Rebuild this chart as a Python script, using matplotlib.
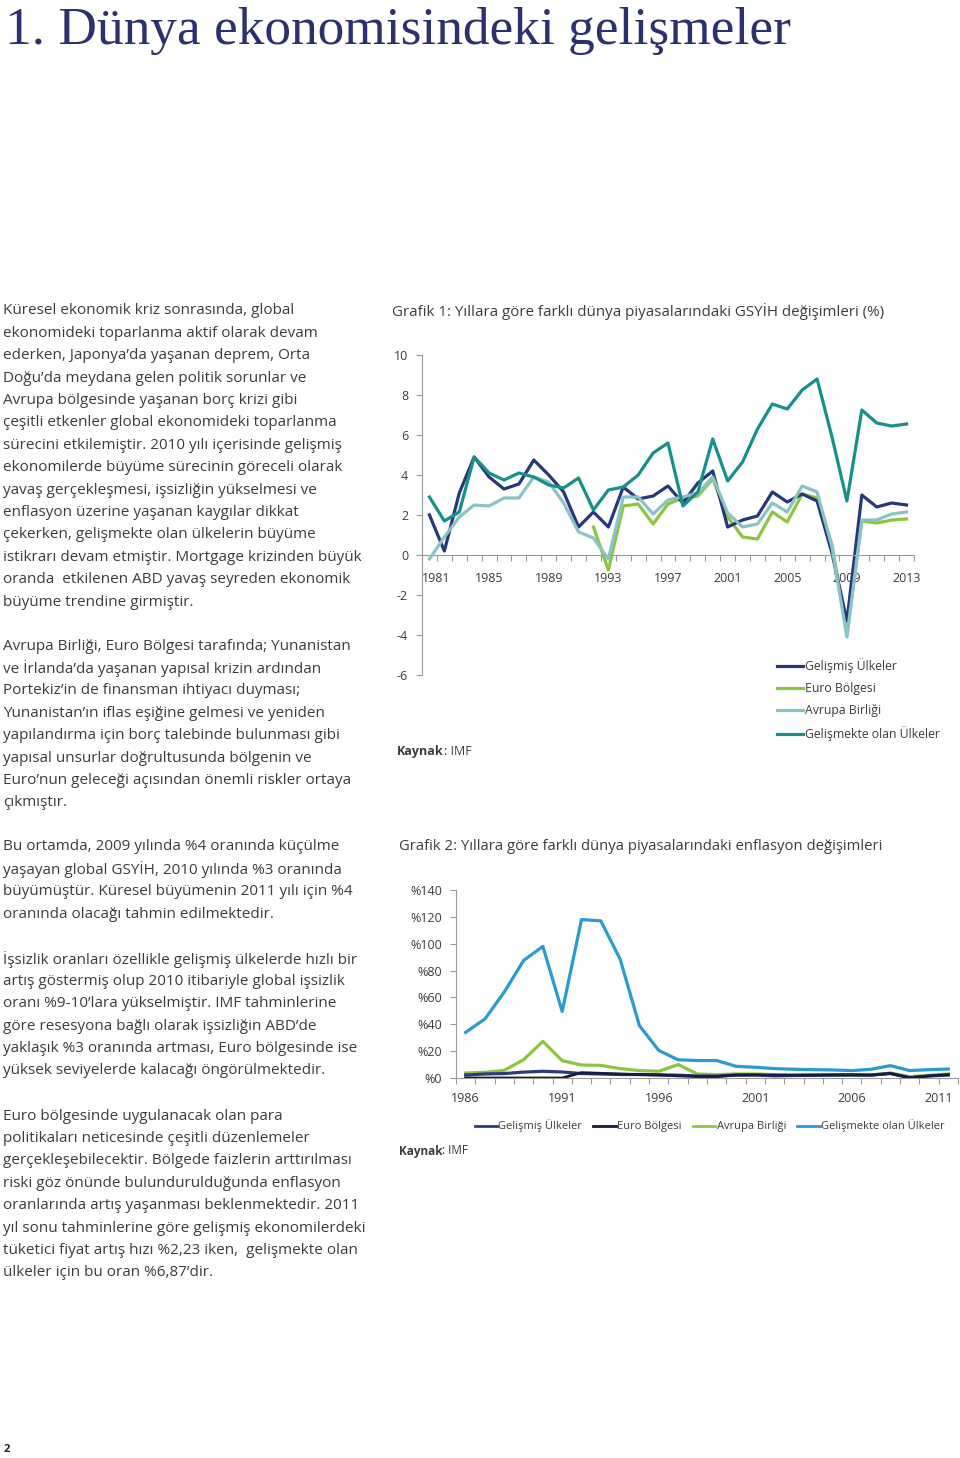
import numpy as np
import matplotlib
matplotlib.use('Agg')
import matplotlib.pyplot as plt
import matplotlib.transforms as mtrans

# --- data: Grafik 1 (GDP change, %) ---
years_gdp = list(range(1981, 2014))
gelismis_gdp = [2.0, 0.2, 3.1, 4.9, 3.9, 3.3, 3.55, 4.75, 4.0, 3.15,
                1.4, 2.15, 1.4, 3.4, 2.8, 2.95, 3.45, 2.6, 3.6, 4.2,
                1.4, 1.75, 1.95, 3.15, 2.65, 3.05, 2.7, 0.1, -3.3, 3.0,
                2.4, 2.6, 2.5]
euro_gdp = [None] * 11 + [1.4, -0.75, 2.45, 2.55, 1.55, 2.55, 2.85, 2.95, 3.8,
                          1.9, 0.9, 0.8, 2.15, 1.65, 3.05, 2.85, 0.5, -4.0, 1.7,
                          1.6, 1.75, 1.8]
ab_gdp = [-0.2, 0.9, 1.9, 2.5, 2.45, 2.85, 2.85, 3.9, 3.65, 2.6,
          1.15, 0.85, -0.2, 2.9, 2.9, 2.05, 2.75, 2.9, 3.1, 3.9,
          2.1, 1.4, 1.55, 2.6, 2.15, 3.45, 3.15, 0.4, -4.1, 1.75,
          1.75, 2.05, 2.15]
gelismekte_gdp = [2.9, 1.7, 2.15, 4.9, 4.1, 3.75, 4.1, 3.9, 3.5, 3.35,
                  3.85, 2.25, 3.25, 3.4, 4.0, 5.1, 5.6, 2.45, 3.15, 5.8,
                  3.7, 4.65, 6.3, 7.55, 7.3, 8.25, 8.8, 5.9, 2.7, 7.25,
                  6.6, 6.45, 6.55]
gdp_tick_years = [1981, 1985, 1989, 1993, 1997, 2001, 2005, 2009, 2013]

# --- data: Grafik 2 (inflation, %) ---
years_inf = list(range(1986, 2012))
gelismis_inf = [2.2, 3.0, 3.3, 4.4, 5.0, 4.5, 3.3, 3.0, 2.6, 2.6,
                2.4, 2.1, 1.5, 1.4, 2.3, 2.2, 1.6, 1.9, 2.0, 2.3,
                2.4, 2.2, 3.4, 0.1, 1.5, 2.2]
euro_inf = [0, 0, 0, 0, 0, 0, 4.0, 3.5, 3.0, 2.5,
            2.2, 1.6, 1.1, 1.1, 2.1, 2.3, 2.2, 2.1, 2.2, 2.2,
            2.2, 2.1, 3.3, 0.3, 1.6, 2.5]
ab_inf = [3.7, 4.2, 5.7, 13.6, 27.3, 12.9, 9.7, 9.4, 7.0, 5.5,
          5.0, 10.0, 3.0, 2.5, 3.0, 3.0, 2.5, 2.2, 2.2, 2.2,
          2.2, 2.3, 3.7, 1.0, 2.0, 3.0]
gelismekte_inf = [34, 44, 64, 87.5, 98, 49.5, 118, 117, 88.5, 39,
                  20.5, 13.6, 13, 13, 8.7, 8, 7, 6.5, 6.2, 6,
                  5.5, 6.5, 9.2, 5.5, 6.2, 6.7]
inf_tick_years = [1986, 1991, 1996, 2001, 2006, 2011]

labels = ['Gelişmiş Ülkeler', 'Euro Bölgesi', 'Avrupa Birliği', 'Gelişmekte olan Ülkeler']

# --- page text ---
title = '1. Dünya ekonomisindeki gelişmeler'
paragraphs = [
    (311, ['Küresel ekonomik kriz sonrasında, global',
           'ekonomideki toparlanma aktif olarak devam',
           'ederken, Japonya’da yaşanan deprem, Orta',
           'Doğu’da meydana gelen politik sorunlar ve',
           'Avrupa bölgesinde yaşanan borç krizi gibi',
           'çeşitli etkenler global ekonomideki toparlanma',
           'sürecini etkilemiştir. 2010 yılı içerisinde gelişmiş',
           'ekonomilerde büyüme sürecinin göreceli olarak',
           'yavaş gerçekleşmesi, işsizliğin yükselmesi ve',
           'enflasyon üzerine yaşanan kaygılar dikkat',
           'çekerken, gelişmekte olan ülkelerin büyüme',
           'istikrarı devam etmiştir. Mortgage krizinden büyük',
           'oranda  etkilenen ABD yavaş seyreden ekonomik',
           'büyüme trendine girmiştir.']),
    (646, ['Avrupa Birliği, Euro Bölgesi tarafında; Yunanistan',
           've İrlanda’da yaşanan yapısal krizin ardından',
           'Portekiz’in de finansman ihtiyacı duyması;',
           'Yunanistan’ın iflas eşiğine gelmesi ve yeniden',
           'yapılandırma için borç talebinde bulunması gibi',
           'yapısal unsurlar doğrultusunda bölgenin ve',
           'Euro’nun geleceği açısından önemli riskler ortaya',
           'çıkmıştır.']),
    (847, ['Bu ortamda, 2009 yılında %4 oranında küçülme',
           'yaşayan global GSYİH, 2010 yılında %3 oranında',
           'büyümüştür. Küresel büyümenin 2011 yılı için %4',
           'oranında olacağı tahmin edilmektedir.']),
    (959, ['İşsizlik oranları özellikle gelişmiş ülkelerde hızlı bir',
           'artış göstermiş olup 2010 itibariyle global işsizlik',
           'oranı %9-10’lara yükselmiştir. IMF tahminlerine',
           'göre resesyona bağlı olarak işsizliğin ABD’de',
           'yaklaşık %3 oranında artması, Euro bölgesinde ise',
           'yüksek seviyelerde kalacağı öngörülmektedir.']),
    (1116, ['Euro bölgesinde uygulanacak olan para',
            'politikaları neticesinde çeşitli düzenlemeler',
            'gerçekleşebilecektir. Bölgede faizlerin arttırılması',
            'riski göz önünde bulundurulduğunda enflasyon',
            'oranlarında artış yaşanması beklenmektedir. 2011',
            'yıl sonu tahminlerine göre gelişmiş ekonomilerdeki',
            'tüketici fiyat artış hızı %2,23 iken,  gelişmekte olan',
            'ülkeler için bu oran %6,87’dir.']),
]

W, H = 960, 1458
SANS = 'Open Sans'
TXT = '#3c3c3c'
AXC = '#9a9a9a'
plt.rcParams['font.family'] = SANS
plt.rcParams['axes.unicode_minus'] = False

fig = plt.figure(figsize=(9.6, 14.58), dpi=100)
renderer = fig.canvas.get_renderer()


def axes_px(left, top, width, height):
    return fig.add_axes([left / W, 1 - (top + height) / H, width / W, height / H])


def text_px(x, y, s, **kw):
    return fig.text(x / W, 1 - y / H, s, **kw)


def fit_text(x, y, s, target_w, **kw):
    t = text_px(x, y, s, fontsize=20, **kw)
    w = t.get_window_extent(renderer).width
    t.set_fontsize(20 * target_w / w)
    return t


def shift_label(ax, idx, dx_px):
    lab = ax.xaxis.get_major_ticks()[idx].label1
    lab.set_transform(lab.get_transform() + mtrans.ScaledTranslation(dx_px / 100, 0, fig.dpi_scale_trans))


# page title
fit_text(5, 44, title, 787, family='Liberation Serif', color='#2b3170', va='baseline')

# body text
probe = fit_text(3, -100, 'istikrarı devam etmiştir. Mortgage krizinden büyük', 357)
body_size = probe.get_fontsize()
probe.remove()
for y0, lines in paragraphs:
    for i, line in enumerate(lines):
        text_px(3, y0 + i * 22.4, line, fontsize=body_size, color=TXT, va='center')

text_px(4, 1450, '2', fontsize=8, fontweight='bold', color='#222222', va='center')


def style_axes(ax):
    for s in ['top', 'right']:
        ax.spines[s].set_visible(False)
    for s in ['left', 'bottom']:
        ax.spines[s].set_color(AXC)
        ax.spines[s].set_linewidth(0.8)
    ax.tick_params(which='both', colors=AXC, labelcolor=TXT, labelsize=9, width=0.8)
    ax.tick_params(axis='y', length=4, pad=6)
    ax.tick_params(axis='x', which='major', length=0, pad=12)
    ax.tick_params(axis='x', which='minor', length=4)
    ax.patch.set_alpha(0)


# --- Grafik 1 ---
fit_text(392, 312, 'Grafik 1: Yıllara göre farklı dünya piyasalarındaki GSYİH değişimleri (%)',
         490, color=TXT, va='center')
ax1 = axes_px(422, 355, 492, 320)
c_navy, c_green, c_lblue, c_teal = '#27377b', '#8cc63f', '#88c4c7', '#17908a'
euro_arr = np.array([np.nan if v is None else v for v in euro_gdp], dtype=float)
ax1.plot(years_gdp, euro_arr, color=c_green, lw=2.3, label=labels[1], zorder=2)
ax1.plot(years_gdp, ab_gdp, color=c_lblue, lw=2.3, label=labels[2], zorder=3)
ax1.plot(years_gdp, gelismis_gdp, color=c_navy, lw=2.3, label=labels[0], zorder=2.5)
ax1.plot(years_gdp, gelismekte_gdp, color=c_teal, lw=2.3, label=labels[3], zorder=4)
ax1.set_xlim(1980.5, 2013.5)
ax1.set_ylim(-6, 10)
ax1.set_yticks(range(-6, 11, 2))
ax1.spines['bottom'].set_position(('data', 0))
ax1.set_xticks(gdp_tick_years)
ax1.set_xticks([y + 0.5 for y in range(1980, 2014)], minor=True)
style_axes(ax1)
shift_label(ax1, 0, 7)
h, l = ax1.get_legend_handles_labels()
order = [2, 0, 1, 3]
fig.legend([h[i] for i in order], [l[i] for i in order],
           loc='upper left', bbox_to_anchor=(771 / W, 1 - 652 / H), frameon=False,
           fontsize=8.8, handlelength=2.1, handletextpad=0.2, labelspacing=0.75,
           borderpad=0, labelcolor=TXT)
k1 = text_px(397, 752, 'Kaynak', fontsize=9, fontweight='bold', color=TXT, va='center')
ax1.annotate(': IMF', xy=(1, 0), xycoords=k1, fontsize=9, color=TXT, va='bottom',
             annotation_clip=False)

# --- Grafik 2 ---
fit_text(399, 847, 'Grafik 2: Yıllara göre farklı dünya piyasalarındaki enflasyon değişimleri',
         484, color=TXT, va='center')
ax2 = axes_px(456, 890, 502, 188)
c2_gel, c2_euro, c2_ab, c2_gm = '#2e3b78', '#161b45', '#8cc63f', '#2a9bd0'
ax2.plot(years_inf, gelismekte_inf, color=c2_gm, lw=2.3, zorder=2)
ax2.plot(years_inf, ab_inf, color=c2_ab, lw=2.3, zorder=3)
ax2.plot(years_inf, gelismis_inf, color=c2_gel, lw=2.3, zorder=4)
ax2.plot(years_inf, euro_inf, color=c2_euro, lw=2.0, zorder=5)
ax2.set_xlim(1985.5, 2011.5)
ax2.set_ylim(0, 140)
ax2.set_yticks(range(0, 141, 20))
ax2.set_yticklabels(['%' + str(v) for v in range(0, 141, 20)])
ax2.set_xticks(inf_tick_years)
ax2.set_xticks([y + 0.5 for y in range(1985, 2012)], minor=True)
style_axes(ax2)
ax2.tick_params(axis='x', which='major', pad=10)
shift_label(ax2, len(inf_tick_years) - 1, -10)
hand2 = [plt.Line2D([], [], color=c, lw=2.0) for c in (c2_gel, c2_euro, c2_ab, c2_gm)]
fig.legend(hand2, labels, loc='center left', bbox_to_anchor=(469 / W, 1 - 1126 / H),
           ncol=4, frameon=False, fontsize=8, handlelength=2.0, handletextpad=0.15,
           columnspacing=1.0, borderpad=0, labelcolor=TXT)
k2 = text_px(399, 1151, 'Kaynak', fontsize=8.5, fontweight='bold', color=TXT, va='center')
ax2.annotate(': IMF', xy=(1, 0), xycoords=k2, fontsize=8.5, color=TXT, va='bottom',
             annotation_clip=False)

fig.savefig('out.png', dpi=100)
